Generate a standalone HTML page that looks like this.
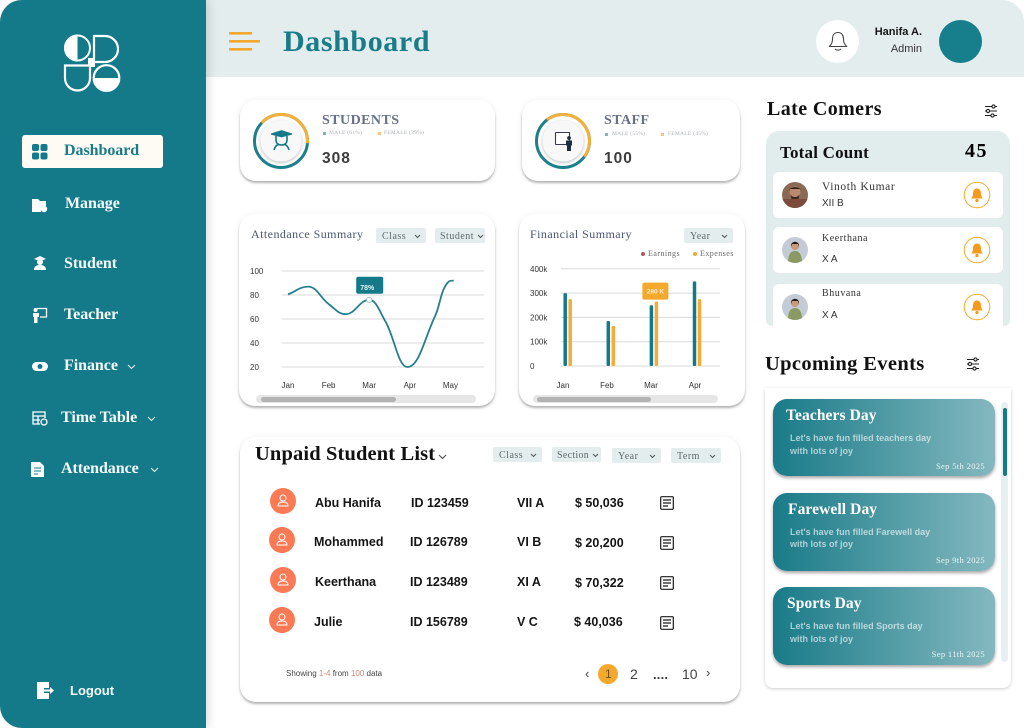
<!DOCTYPE html>
<html lang="en">
<head>
<meta charset="utf-8">
<title>Dashboard</title>
<style>
html,body{margin:0;padding:0;background:#fff;}
#app{position:relative;width:1024px;height:728px;overflow:hidden;background:#fff;font-family:"Liberation Sans",sans-serif;}
#app div,#app span.t{position:absolute;}
.t{white-space:nowrap;line-height:1;}
.serif{font-family:"Liberation Serif",serif;}
.sans{font-family:"Liberation Sans",sans-serif;}
.h{font-family:"Liberation Serif",serif;font-weight:700;color:#111;}
.nav{font-family:"Liberation Serif",serif;font-weight:700;font-size:16px;color:#f4fbfb;letter-spacing:-.05px;}
.card{background:#fff;border-radius:16px;box-shadow:0 2px 2px rgba(0,0,0,.28),0 0 8px rgba(0,0,0,.05);}
.dd{background:#e3eded;border-radius:2px;height:15px;}
.dd span{position:absolute;left:6px;top:4px;font:10px/1 "Liberation Serif",serif;color:#5f6b70;letter-spacing:.5px;white-space:nowrap;}
.dd svg{position:absolute;right:5px;top:6px;}
.row-txt{font-weight:700;font-size:12.5px;color:#151515;}
.ava{width:26px;height:26px;border-radius:50%;background:#fb7a56;}
.late{background:#fff;border-radius:6px;left:7px;width:230px;}
.ev{left:8px;width:222px;border-radius:14px;background:linear-gradient(90deg,#197b88,#84b8bf);box-shadow:0 2px 3px rgba(0,0,0,.35);}
.ev .tt{font-family:"Liberation Serif",serif;font-weight:700;font-size:15.5px;color:#fff;letter-spacing:.1px;}
.ev .b{font-size:9px;color:rgba(255,255,255,.62);font-weight:700;}
.ev .d{font-family:"Liberation Serif",serif;font-size:8.5px;color:rgba(255,255,255,.85);letter-spacing:.35px;right:10px;}
.lg{font-family:"Liberation Serif",serif;font-size:5.5px;color:#a9b0b3;letter-spacing:.25px;}
</style>
</head>
<body>
<div id="app">

<!-- header -->
<div style="left:190px;top:0;width:834px;height:77px;background:#e3eded;border-radius:0 22px 0 0;"></div>
<svg style="position:absolute;left:228px;top:31px" width="32" height="20"><rect x="1" y="1" width="23" height="2.6" fill="#f5a92c"/><rect x="1" y="9" width="31" height="2.6" fill="#f5a92c"/><rect x="1" y="17" width="23" height="2.6" fill="#f5a92c"/></svg>
<span class="t h" style="left:283px;top:27px;font-size:30px;color:#1b7c89;letter-spacing:.6px;">Dashboard</span>
<div style="left:816px;top:20px;width:43px;height:43px;border-radius:50%;background:#fff;">
<svg style="position:absolute;left:12px;top:11px" width="20" height="22" fill="none" stroke="#444" stroke-width="1.1"><path d="M10 1.500c-3.700 0-5.500 2.800-5.500 6.500 0 3.700-1 4.700-3 7.500h17c-2-2.800-3-3.800-3-7.500 0-3.700-1.800-6.500-5.500-6.500z"/><path d="M7 18c1.500 1.500 4.500 1.500 6 0"/></svg></div>
<span class="t" style="right:102px;top:27px;font-size:11px;font-weight:700;color:#161616;">Hanifa A.</span>
<span class="t" style="right:102px;top:44px;font-size:11px;color:#333;">Admin</span>
<div style="left:939px;top:20px;width:43px;height:43px;border-radius:50%;background:#177e8c;"></div>

<!-- sidebar -->
<div style="left:0;top:0;width:206px;height:728px;background:#147a89;border-radius:22px 0 0 22px;box-shadow:3px 0 9px rgba(0,0,0,.13);"></div>
<svg style="position:absolute;left:62px;top:32px" width="60" height="62">
<rect x="26" y="26" width="7" height="9" fill="#fff"/>
<circle cx="15.500" cy="16" r="12.500" fill="#147a89" stroke="#fff" stroke-width="2"/>
<path d="M15.500 2.500a13.500 13.500 0 0 0 0 27z" fill="#fff"/>
<path d="M32 4h11a13 13 0 0 1 13 13a13 13 0 0 1-13 13H32z" fill="#147a89" stroke="#fff" stroke-width="2.200"/>
<path d="M3 33.500h25v12.500a12.500 12.500 0 0 1-25 0z" fill="#147a89" stroke="#fff" stroke-width="2.200"/>
<circle cx="44.500" cy="46" r="12.800" fill="#147a89" stroke="#fff" stroke-width="2.200"/>
<path d="M31 46h27a13.500 13.500 0 0 1-27 0z" fill="#fff"/>
</svg>

<div style="left:22px;top:135px;width:141px;height:33px;background:#fdfbf4;border-radius:3px;"></div>
<svg style="position:absolute;left:32px;top:144px" width="16" height="16" fill="#147a89"><rect width="7" height="7" rx="2"/><rect x="8.500" width="7" height="7" rx="2"/><rect y="8.500" width="7" height="7" rx="2"/><rect x="8.500" y="8.500" width="7" height="7" rx="2"/></svg>
<span class="t nav" style="left:64px;top:143px;color:#1b7c89;">Dashboard</span>

<svg style="position:absolute;left:32px;top:198px" width="16" height="15" fill="#fff"><path d="M0 1h6l2 2h6v5a5 5 0 0 0-5 6H0z"/><circle cx="12" cy="11" r="3.200"/></svg>
<span class="t nav" style="left:65px;top:196px;">Manage</span>

<svg style="position:absolute;left:32px;top:256px" width="16" height="15" fill="#fff"><path d="M2 3l6-3 6 3-6 2z"/><circle cx="8" cy="6" r="3"/><path d="M2 14c0-4 3-5 6-5s6 1 6 5z"/></svg>
<span class="t nav" style="left:64px;top:256px;">Student</span>

<svg style="position:absolute;left:32px;top:307px" width="16" height="16"><circle cx="3.500" cy="3" r="2" fill="#fff"/><path d="M1 6h6v4H5.500v6H2v-6H1z" fill="#fff"/><path d="M5 1.500h9.500V10H8" fill="none" stroke="#fff" stroke-width="1.300"/></svg>
<span class="t nav" style="left:64px;top:307px;">Teacher</span>

<svg style="position:absolute;left:32px;top:361px" width="16" height="11"><rect y="1" width="16" height="9" rx="4.500" fill="#fff"/><circle cx="8" cy="5.500" r="2.500" fill="#147a89"/></svg>
<span class="t nav" style="left:64px;top:358px;">Finance</span>
<svg style="position:absolute;left:127px;top:364px" width="9" height="6" fill="none" stroke="#e8f3f3"><path d="M1 1l3.500 3.500L8 1"/></svg>

<svg style="position:absolute;left:32px;top:411px" width="16" height="15" fill="none" stroke="#fff" stroke-width="1.300"><path d="M8 13H1V1h12v6M1 5h12M6 5v8M1 9h7"/><circle cx="12" cy="11" r="3"/></svg>
<span class="t nav" style="left:61px;top:410px;">Time Table</span>
<svg style="position:absolute;left:147px;top:416px" width="9" height="6" fill="none" stroke="#e8f3f3"><path d="M1 1l3.500 3.500L8 1"/></svg>

<svg style="position:absolute;left:31px;top:462px" width="14" height="15"><path d="M0 0h9l4 4v11H0z" fill="#fff"/><path d="M3 6h7M3 9h7M3 12h4" stroke="#147a89"/></svg>
<span class="t nav" style="left:61px;top:461px;">Attendance</span>
<svg style="position:absolute;left:150px;top:467px" width="9" height="6" fill="none" stroke="#e8f3f3"><path d="M1 1l3.500 3.500L8 1"/></svg>

<svg style="position:absolute;left:37px;top:682px" width="18" height="17" fill="#fff"><path d="M0 0h12v6H7v5h5v6H0z"/><path d="M7 7.500h6V5l4 3.500-4 3.500V9.500H7z"/></svg>
<span class="t" style="left:70px;top:684px;font-size:13px;font-weight:700;color:#f4fbfb;">Logout</span>

<!-- stat cards -->
<div class="card" style="left:240px;top:100px;width:255px;height:81px;"></div>
<svg id="ring-students" style="position:absolute;left:251px;top:111px" width="60" height="60"></svg>
<svg style="position:absolute;left:271px;top:130px" width="21" height="21" fill="none" stroke="#147a89" stroke-width="1.600"><path d="M1 4l9.500-3L20 4l-9.500 2.500z" fill="#147a89"/><path d="M5 6v4c0 3 2 5 5.500 5s5.500-2 5.500-5V6" /><path d="M3 20c1-4 3-5 5-6M18 20c-1-4-3-5-5-6"/></svg>
<span class="t serif" style="left:322px;top:114px;font-size:14px;color:#66708a;letter-spacing:.45px;font-weight:700;">STUDENTS</span>
<span style="position:absolute;left:323px;top:132px;width:3px;height:3px;background:#7fb4bb;"></span>
<span class="t lg" style="left:329px;top:131px;">MALE (61%)</span>
<span style="position:absolute;left:378px;top:132px;width:3px;height:3px;background:#f5c57a;"></span>
<span class="t lg" style="left:384px;top:131px;">FEMALE (39%)</span>
<span class="t" style="left:322px;top:151px;font-size:15.5px;font-weight:700;color:#3d3d3d;letter-spacing:1px;">308</span>

<div class="card" style="left:522px;top:100px;width:218px;height:81px;"></div>
<svg id="ring-staff" style="position:absolute;left:533px;top:111px" width="60" height="60"></svg>
<svg style="position:absolute;left:554px;top:131px" width="21" height="21"><path d="M1.500 1.500h14v12H1.500" fill="#fff" stroke="#333b4a" stroke-width="1.100"/><path d="M1.500 1.500v12" stroke="#333b4a" stroke-width="1.100"/><circle cx="15" cy="7" r="1.900" fill="#1f2d44"/><path d="M12 9.500h6v5h-1v5.500h-4v-5.500h-1z" fill="#1f2d44"/></svg>
<span class="t serif" style="left:604px;top:114px;font-size:14px;color:#66708a;letter-spacing:.45px;font-weight:700;">STAFF</span>
<span style="position:absolute;left:605px;top:133px;width:3px;height:3px;background:#7fb4bb;"></span>
<span class="t lg" style="left:612px;top:132px;">MALE (55%)</span>
<span style="position:absolute;left:661px;top:133px;width:3px;height:3px;background:#f5c57a;"></span>
<span class="t lg" style="left:668px;top:132px;">FEMALE (45%)</span>
<span class="t" style="left:604px;top:151px;font-size:15.5px;font-weight:700;color:#3d3d3d;letter-spacing:1px;">100</span>

<!-- attendance chart -->
<div class="card" style="left:239px;top:214px;width:256px;height:192px;"></div>
<span class="t serif" style="left:251px;top:228px;font-size:12px;color:#49566f;letter-spacing:.45px;">Attendance Summary</span>
<div class="dd" style="left:376px;top:228px;width:50px;"><span>Class</span><svg width="7" height="5" fill="none" stroke="#555"><path d="M1 1l2.500 2.500L6 1"/></svg></div>
<div class="dd" style="left:435px;top:228px;width:50px;"><span style="left:5px">Student</span><svg style="right:1px" width="7" height="5" fill="none" stroke="#555"><path d="M1 1l2.500 2.500L6 1"/></svg></div>
<svg id="attendance-chart" style="position:absolute;left:239px;top:255px" width="256" height="140"></svg>
<div style="left:256px;top:395px;width:220px;height:8px;border-radius:4px;background:#e6e6e6;"></div>
<div style="left:261px;top:397px;width:135px;height:5px;border-radius:3px;background:#b3b3b3;"></div>

<!-- financial chart -->
<div class="card" style="left:519px;top:214px;width:226px;height:192px;"></div>
<span class="t serif" style="left:530px;top:228px;font-size:12px;color:#49566f;letter-spacing:.45px;">Financial Summary</span>
<div class="dd" style="left:684px;top:228px;width:49px;"><span>Year</span><svg width="7" height="5" fill="none" stroke="#555"><path d="M1 1l2.500 2.500L6 1"/></svg></div>
<span style="position:absolute;left:641px;top:252px;width:4px;height:4px;border-radius:50%;background:#b5574f;"></span>
<span class="t serif" style="left:648px;top:250px;font-size:8px;color:#6b6b6b;letter-spacing:.45px;">Earnings</span>
<span style="position:absolute;left:693px;top:252px;width:4px;height:4px;border-radius:50%;background:#f5a92c;"></span>
<span class="t serif" style="left:700px;top:250px;font-size:8px;color:#6b6b6b;letter-spacing:.45px;">Expenses</span>
<svg id="financial-chart" style="position:absolute;left:519px;top:255px" width="226" height="140"></svg>
<div style="left:533px;top:395px;width:185px;height:8px;border-radius:4px;background:#e6e6e6;"></div>
<div style="left:537px;top:397px;width:114px;height:5px;border-radius:3px;background:#b3b3b3;"></div>

<!-- unpaid list -->
<div class="card" style="left:240px;top:437px;width:500px;height:265px;"></div>
<span class="t h" style="left:255px;top:444px;font-size:20.5px;letter-spacing:.13px;">Unpaid Student List</span>
<svg style="position:absolute;left:438px;top:454px" width="9" height="6" fill="none" stroke="#444"><path d="M1 1l3.500 3.500L8 1"/></svg>
<div class="dd" style="left:493px;top:447px;width:49px;"><span>Class</span><svg width="7" height="5" fill="none" stroke="#555"><path d="M1 1l2.500 2.500L6 1"/></svg></div>
<div class="dd" style="left:552px;top:447px;width:49px;"><span style="left:5px;letter-spacing:.3px">Section</span><svg style="right:2px" width="7" height="5" fill="none" stroke="#555"><path d="M1 1l2.500 2.500L6 1"/></svg></div>
<div class="dd" style="left:612px;top:448px;width:49px;"><span>Year</span><svg width="7" height="5" fill="none" stroke="#555"><path d="M1 1l2.500 2.500L6 1"/></svg></div>
<div class="dd" style="left:671px;top:448px;width:50px;"><span>Term</span><svg width="7" height="5" fill="none" stroke="#555"><path d="M1 1l2.500 2.500L6 1"/></svg></div>

<div class="ava" style="left:270px;top:488px;"><svg width="26" height="26" fill="none" stroke="#fff"><circle cx="13" cy="10" r="3"/><path d="M8 18c0-3 2-4 5-4s5 1 5 4z"/></svg></div>
<span class="t row-txt" style="left:315px;top:496.500px;">Abu Hanifa</span>
<span class="t row-txt" style="left:411px;top:496.500px;">ID 123459</span>
<span class="t row-txt" style="left:517px;top:496.500px;">VII A</span>
<span class="t row-txt" style="left:575px;top:497px;">$ 50,036</span>
<svg style="position:absolute;left:660px;top:496px" width="14" height="14" fill="none" stroke="#1a1a1a" stroke-width="1.200"><rect x=".7" y=".7" width="12.600" height="12.600" rx="1"/><path d="M3 4h8M3 7h8M3 10h5"/></svg>

<div class="ava" style="left:269px;top:527px;"><svg width="26" height="26" fill="none" stroke="#fff"><circle cx="13" cy="10" r="3"/><path d="M8 18c0-3 2-4 5-4s5 1 5 4z"/></svg></div>
<span class="t row-txt" style="left:314px;top:536px;">Mohammed</span>
<span class="t row-txt" style="left:410px;top:536px;">ID 126789</span>
<span class="t row-txt" style="left:517px;top:536px;">VI B</span>
<span class="t row-txt" style="left:575px;top:537px;">$ 20,200</span>
<svg style="position:absolute;left:660px;top:536px" width="14" height="14" fill="none" stroke="#1a1a1a" stroke-width="1.200"><rect x=".7" y=".7" width="12.600" height="12.600" rx="1"/><path d="M3 4h8M3 7h8M3 10h5"/></svg>

<div class="ava" style="left:270px;top:567px;"><svg width="26" height="26" fill="none" stroke="#fff"><circle cx="13" cy="10" r="3"/><path d="M8 18c0-3 2-4 5-4s5 1 5 4z"/></svg></div>
<span class="t row-txt" style="left:315px;top:575.500px;">Keerthana</span>
<span class="t row-txt" style="left:410px;top:575.500px;">ID 123489</span>
<span class="t row-txt" style="left:517px;top:575.500px;">XI A</span>
<span class="t row-txt" style="left:575px;top:577px;">$ 70,322</span>
<svg style="position:absolute;left:660px;top:576px" width="14" height="14" fill="none" stroke="#1a1a1a" stroke-width="1.200"><rect x=".7" y=".7" width="12.600" height="12.600" rx="1"/><path d="M3 4h8M3 7h8M3 10h5"/></svg>

<div class="ava" style="left:269px;top:607px;"><svg width="26" height="26" fill="none" stroke="#fff"><circle cx="13" cy="10" r="3"/><path d="M8 18c0-3 2-4 5-4s5 1 5 4z"/></svg></div>
<span class="t row-txt" style="left:314px;top:615.500px;">Julie</span>
<span class="t row-txt" style="left:410px;top:615.500px;">ID 156789</span>
<span class="t row-txt" style="left:517px;top:615.500px;">V C</span>
<span class="t row-txt" style="left:574px;top:616px;">$ 40,036</span>
<svg style="position:absolute;left:660px;top:616px" width="14" height="14" fill="none" stroke="#1a1a1a" stroke-width="1.200"><rect x=".7" y=".7" width="12.600" height="12.600" rx="1"/><path d="M3 4h8M3 7h8M3 10h5"/></svg>

<span class="t" style="left:286px;top:669.500px;font-size:8px;color:#444;">Showing <span style="color:#c98a80">1-4</span> from <span style="color:#c98a80">100</span> data</span>
<span class="t" style="left:585px;top:667px;font-size:13px;color:#444;">‹</span>
<div style="left:598px;top:664px;width:20px;height:20px;border-radius:50%;background:#f5a92c;"><span class="t" style="position:absolute;left:7px;top:4px;font-size:12px;color:#6b5320;">1</span></div>
<span class="t" style="left:630px;top:667px;font-size:14px;color:#444;">2</span>
<span class="t" style="left:653px;top:668px;font-size:13px;font-weight:700;color:#333;letter-spacing:.2px;">....</span>
<span class="t" style="left:682px;top:667px;font-size:14px;color:#444;">10</span>
<span class="t" style="left:706px;top:666px;font-size:13px;color:#444;">›</span>

<!-- late comers -->
<span class="t h" style="left:767px;top:99px;font-size:20px;letter-spacing:.4px;">Late Comers</span>
<svg style="position:absolute;left:984px;top:104px" width="14" height="14" fill="none" stroke="#222" stroke-width="1.100"><path d="M1 2.500h12M1 7h12M1 11.500h12"/><circle cx="9.500" cy="2.500" r="1.600" fill="#fff"/><circle cx="4" cy="7" r="1.600" fill="#fff"/><circle cx="8.500" cy="11.500" r="1.600" fill="#fff"/></svg>
<div style="left:766px;top:131px;width:244px;height:195px;background:#e1ecec;border-radius:13px 13px 6px 6px;overflow:hidden;">
 <span class="t h" style="position:absolute;left:14px;top:13px;font-size:17px;letter-spacing:.2px;">Total Count</span>
 <span class="t h" style="position:absolute;left:199px;top:10px;font-size:20px;letter-spacing:1.5px;color:#000;">45</span>
 <div class="late" style="top:41px;height:46px;">
  <svg style="position:absolute;left:9px;top:10px" width="26" height="26"><defs><clipPath id="c1"><circle cx="13" cy="13" r="13"/></clipPath></defs><g clip-path="url(#c1)"><rect width="26" height="26" fill="#8a6a55"/><rect y="17" width="26" height="9" fill="#7c4b3a"/><circle cx="13" cy="10" r="5.500" fill="#b98a6b"/><path d="M7 9c0-5 12-5 12 0l-1-2H8z" fill="#2a1c14"/><path d="M8.500 12c1 4 8 4 9 0l-1 5h-7z" fill="#3b2a20"/></g></svg>
  <span class="t serif" style="position:absolute;left:49px;top:10px;font-size:11.500px;color:#333;letter-spacing:.6px;">Vinoth Kumar</span>
  <span class="t" style="position:absolute;left:49px;top:27px;font-size:10px;color:#333;">XII B</span>
  <svg style="position:absolute;left:190px;top:9px" width="28" height="28"><circle cx="14" cy="14" r="12.800" fill="#fff" stroke="#f5a92c" stroke-width="1"/><path d="M14 7.500c-2.500 0-4 2-4 5 0 2.500-.7 3.500-1.800 5h11.600c-1.100-1.500-1.800-2.500-1.800-5 0-3-1.500-5-4-5z" fill="#f59a1c"/><circle cx="14" cy="19.500" r="1.600" fill="#f59a1c"/></svg>
 </div>
 <div class="late" style="top:96px;height:46px;">
  <svg style="position:absolute;left:9px;top:10px" width="26" height="26"><defs><clipPath id="c2"><circle cx="13" cy="13" r="13"/></clipPath></defs><g clip-path="url(#c2)"><rect width="26" height="26" fill="#c3ccd6"/><path d="M6 26c0-9 3-12 7-12s7 3 7 12z" fill="#8a9a62"/><circle cx="13" cy="9" r="4" fill="#c79a7c"/><path d="M9 10c-1-7 9-7 8 0l-1-3H10z" fill="#2a1c14"/></g></svg>
  <span class="t serif" style="position:absolute;left:49px;top:7px;font-size:10px;color:#333;letter-spacing:.55px;">Keerthana</span>
  <span class="t" style="position:absolute;left:49px;top:28px;font-size:10px;color:#333;">X A</span>
  <svg style="position:absolute;left:190px;top:9px" width="28" height="28"><circle cx="14" cy="14" r="12.800" fill="#fff" stroke="#f5a92c" stroke-width="1"/><path d="M14 7.500c-2.500 0-4 2-4 5 0 2.500-.7 3.500-1.800 5h11.600c-1.100-1.500-1.800-2.500-1.800-5 0-3-1.500-5-4-5z" fill="#f59a1c"/><circle cx="14" cy="19.500" r="1.600" fill="#f59a1c"/></svg>
 </div>
 <div class="late" style="top:153px;height:46px;">
  <svg style="position:absolute;left:9px;top:10px" width="26" height="26"><defs><clipPath id="c3"><circle cx="13" cy="13" r="13"/></clipPath></defs><g clip-path="url(#c3)"><rect width="26" height="26" fill="#c3ccd6"/><path d="M6 26c0-9 3-12 7-12s7 3 7 12z" fill="#8a9a62"/><circle cx="13" cy="9" r="4" fill="#c79a7c"/><path d="M9 10c-1-7 9-7 8 0l-1-3H10z" fill="#2a1c14"/></g></svg>
  <span class="t serif" style="position:absolute;left:49px;top:5px;font-size:10px;color:#333;letter-spacing:.55px;">Bhuvana</span>
  <span class="t" style="position:absolute;left:49px;top:27px;font-size:10px;color:#333;">X A</span>
  <svg style="position:absolute;left:190px;top:9px" width="28" height="28"><circle cx="14" cy="14" r="12.800" fill="#fff" stroke="#f5a92c" stroke-width="1"/><path d="M14 7.500c-2.500 0-4 2-4 5 0 2.500-.7 3.500-1.800 5h11.600c-1.100-1.500-1.800-2.500-1.800-5 0-3-1.500-5-4-5z" fill="#f59a1c"/><circle cx="14" cy="19.500" r="1.600" fill="#f59a1c"/></svg>
 </div>
</div>

<!-- events -->
<span class="t h" style="left:765px;top:354px;font-size:20.500px;letter-spacing:.35px;">Upcoming Events</span>
<svg style="position:absolute;left:966px;top:357px" width="14" height="14" fill="none" stroke="#222" stroke-width="1.100"><path d="M1 2.500h12M1 7h12M1 11.500h12"/><circle cx="9.500" cy="2.500" r="1.600" fill="#fff"/><circle cx="4" cy="7" r="1.600" fill="#fff"/><circle cx="8.500" cy="11.500" r="1.600" fill="#fff"/></svg>
<div style="left:765px;top:388px;width:246px;height:300px;background:#fff;border-radius:0 0 8px 8px;box-shadow:0 1px 3px rgba(0,0,0,.2);">
 <div class="ev" style="top:11px;height:77px;">
  <span class="t tt" style="left:13px;top:9px;">Teachers Day</span>
  <span class="t b" style="left:17px;top:35px;">Let's have fun filled teachers day</span>
  <span class="t b" style="left:17px;top:48px;">with lots of joy</span>
  <span class="t d" style="top:63px;">Sep 5th 2025</span>
 </div>
 <div class="ev" style="top:105px;height:78px;">
  <span class="t tt" style="left:15px;top:9px;">Farewell Day</span>
  <span class="t b" style="left:17px;top:35px;">Let's have fun filled Farewell day</span>
  <span class="t b" style="left:17px;top:47px;">with lots of joy</span>
  <span class="t d" style="top:63px;">Sep 9th 2025</span>
 </div>
 <div class="ev" style="top:199px;height:78px;">
  <span class="t tt" style="left:14px;top:9px;">Sports Day</span>
  <span class="t b" style="left:17px;top:35px;">Let's have fun filled Sports day</span>
  <span class="t b" style="left:17px;top:48px;">with lots of joy</span>
  <span class="t d" style="top:63px;">Sep 11th 2025</span>
 </div>
 <div style="left:236px;top:14px;width:7px;height:260px;background:#e6f0f0;border-radius:4px;"></div>
 <div style="left:238px;top:20px;width:4px;height:68px;background:#147a89;border-radius:2px;"></div>
</div>
</div>

<script>
// Attendance chart data
const attendanceMonths = ["Jan", "Feb", "Mar", "Apr", "May"];
const attendanceTicks = [100, 80, 60, 40, 20];
const attendanceSamplePositions = [0, 0.5, 1, 1.42, 2, 2.4, 2.94, 3.63, 3.85, 4.08];
const attendanceValues = [80.5, 87, 72.5, 64, 76, 58, 20, 63, 86, 92];
const attendanceHighlightSample = 4;
const attendanceTooltip = "78%";
// Financial chart data
const financeMonths = ["Jan", "Feb", "Mar", "Apr"];
const financeTicks = [400, 300, 200, 100, 0];
const financeTickLabels = ["400k", "300k", "200k", "100k", "0"];
const earnings = [300, 185, 250, 348];
const expenses = [275, 165, 265, 275];
const financeTooltip = "280 K";
const financeTooltipMonth = 2;
// Ring data
const studentsFemaleShare = 39;
const staffFemaleShare = 45;

const NS = "http://www.w3.org/2000/svg";
function mk(parent, tag, attrs, text) {
  const el = document.createElementNS(NS, tag);
  for (const k in attrs) el.setAttribute(k, attrs[k]);
  if (text !== undefined) el.textContent = text;
  parent.appendChild(el);
  return el;
}
// Hermite curve with x-based tangents, flat at local extremes
function smooth(pts) {
  const n = pts.length;
  const m = pts.map((p, i) => {
    if (i === 0) return (pts[1][1] - p[1]) / (pts[1][0] - p[0]);
    if (i === n - 1) return 0;
    const a = p[1] - pts[i - 1][1], b = pts[i + 1][1] - p[1];
    if (a * b <= 0) return 0;
    return (pts[i + 1][1] - pts[i - 1][1]) / (pts[i + 1][0] - pts[i - 1][0]);
  });
  let d = "M" + pts[0][0] + " " + pts[0][1];
  for (let i = 0; i < n - 1; i++) {
    const dx = (pts[i + 1][0] - pts[i][0]) / 2.4;
    d += " C" + (pts[i][0] + dx) + " " + (pts[i][1] + m[i] * dx) + " " + (pts[i + 1][0] - dx) + " " + (pts[i + 1][1] - m[i + 1] * dx) + " " + pts[i + 1][0] + " " + pts[i + 1][1];
  }
  return d;
}

// Attendance: svg origin is page (239,255)
(function () {
  const svg = document.getElementById("attendance-chart");
  const x = m => 49 + 40.6 * m;
  const y = v => 112 - (v - 20) * 1.2;
  attendanceTicks.forEach(t => {
    const line = mk(svg, "line", { x1: 43, x2: 245, y1: y(t), y2: y(t), stroke: "#d9d9d9", "stroke-width": 1 });
    
    
    const lab = mk(svg, "text", { x: 11, y: y(t) + 3, "font-size": 8, fill: "#333", "font-family": "Liberation Sans" }, String(t));
    
    
  });
  attendanceMonths.forEach((m, i) => {
    const lab = mk(svg, "text", { x: x(i), y: 133, "font-size": 8, fill: "#333", "text-anchor": "middle", "font-family": "Liberation Sans" }, m);
    
    
  });
  const pts = attendanceValues.map((v, i) => [x(attendanceSamplePositions[i]), y(v)]);
  const path = mk(svg, "path", { d: smooth(pts), fill: "none", stroke: "#26808b", "stroke-width": 1.8 });
  
  
  const hp = pts[attendanceHighlightSample];
  const tip = mk(svg, "rect", { x: hp[0] - 13, y: hp[1] - 23, width: 27, height: 17, rx: 2, fill: "#147a89" });
  
  
  const tipT = mk(svg, "text", { x: hp[0] - 9, y: hp[1] - 10, "font-size": 7, "font-weight": 700, fill: "#e5f2f2", "font-family": "Liberation Sans" }, attendanceTooltip);
  
  
  const dot = mk(svg, "circle", { cx: hp[0], cy: hp[1], r: 2.7, fill: "#fff", stroke: "#8fb9d0", "stroke-width": 0.8 });
  
  
})();

// Financial: svg origin is page (519,255)
(function () {
  const svg = document.getElementById("financial-chart");
  const xLabel = m => 44 + 44 * m;
  const xBar = m => 46.2 + 43.1 * m;
  const y = v => 111 - v * 0.243;
  financeTicks.forEach((t, i) => {
    const line = mk(svg, "line", { x1: 42, x2: 201, y1: y(t), y2: y(t), stroke: "#d9d9d9", "stroke-width": 1 });
    
    
    const lab = mk(svg, "text", { x: 11, y: y(t) + 3, "font-size": 8, fill: "#333", "font-family": "Liberation Sans" }, financeTickLabels[i]);
    
    
  });
  financeMonths.forEach((m, i) => {
    const lab = mk(svg, "text", { x: xLabel(i), y: 133, "font-size": 8, fill: "#333", "text-anchor": "middle", "font-family": "Liberation Sans" }, m);
    
    
    const e = mk(svg, "rect", { x: xBar(i) - 1.75, y: y(earnings[i]), width: 3.5, height: y(0) - y(earnings[i]), rx: 1.2, fill: "#147a89" });
    
    
    const x2 = mk(svg, "rect", { x: xBar(i) + 3.25, y: y(expenses[i]), width: 3.5, height: y(0) - y(expenses[i]), rx: 1.2, fill: "#f5ab35" });
    
    
  });
  const tx = xBar(financeTooltipMonth) + 4;
  const ty = y(expenses[financeTooltipMonth]);
  const tip = mk(svg, "rect", { x: tx - 13, y: ty - 19, width: 26, height: 17, rx: 2, fill: "#f5a92c" });
  
  
  const tipT = mk(svg, "text", { x: tx, y: ty - 8, "font-size": 6.5, "font-weight": 700, fill: "#fdebcf", "text-anchor": "middle", "font-family": "Liberation Sans" }, financeTooltip);
  
  
})();

// Rings
function drawRing(id, share, startDeg) {
  const svg = document.getElementById(id);
  const defs = mk(svg, "defs", {});
  const f = mk(defs, "filter", { id: id + "-s", x: "-30%", y: "-30%", width: "160%", height: "160%" });
  mk(f, "feDropShadow", { dx: 0, dy: 1, stdDeviation: 1.6, "flood-color": "#000", "flood-opacity": 0.3 });
  const base = mk(svg, "circle", { cx: 30, cy: 30, r: 26.5, fill: "none", stroke: "#1d7f8b", "stroke-width": 3 });
  
  
  const arc = mk(svg, "circle", { cx: 30, cy: 30, r: 26.5, fill: "none", stroke: "#f5b03a", "stroke-width": 3, pathLength: 100, "stroke-dasharray": share + " " + (100 - share), transform: "rotate(" + (startDeg - 90) + " 30 30)" });
  
  
  const inner = mk(svg, "circle", { cx: 30, cy: 30, r: 20.5, fill: "#f8f8f8", filter: "url(#" + id + "-s)" });
  
  
}
drawRing("ring-students", studentsFemaleShare, -45);
drawRing("ring-staff", staffFemaleShare, -35);
</script>
</body>
</html>
